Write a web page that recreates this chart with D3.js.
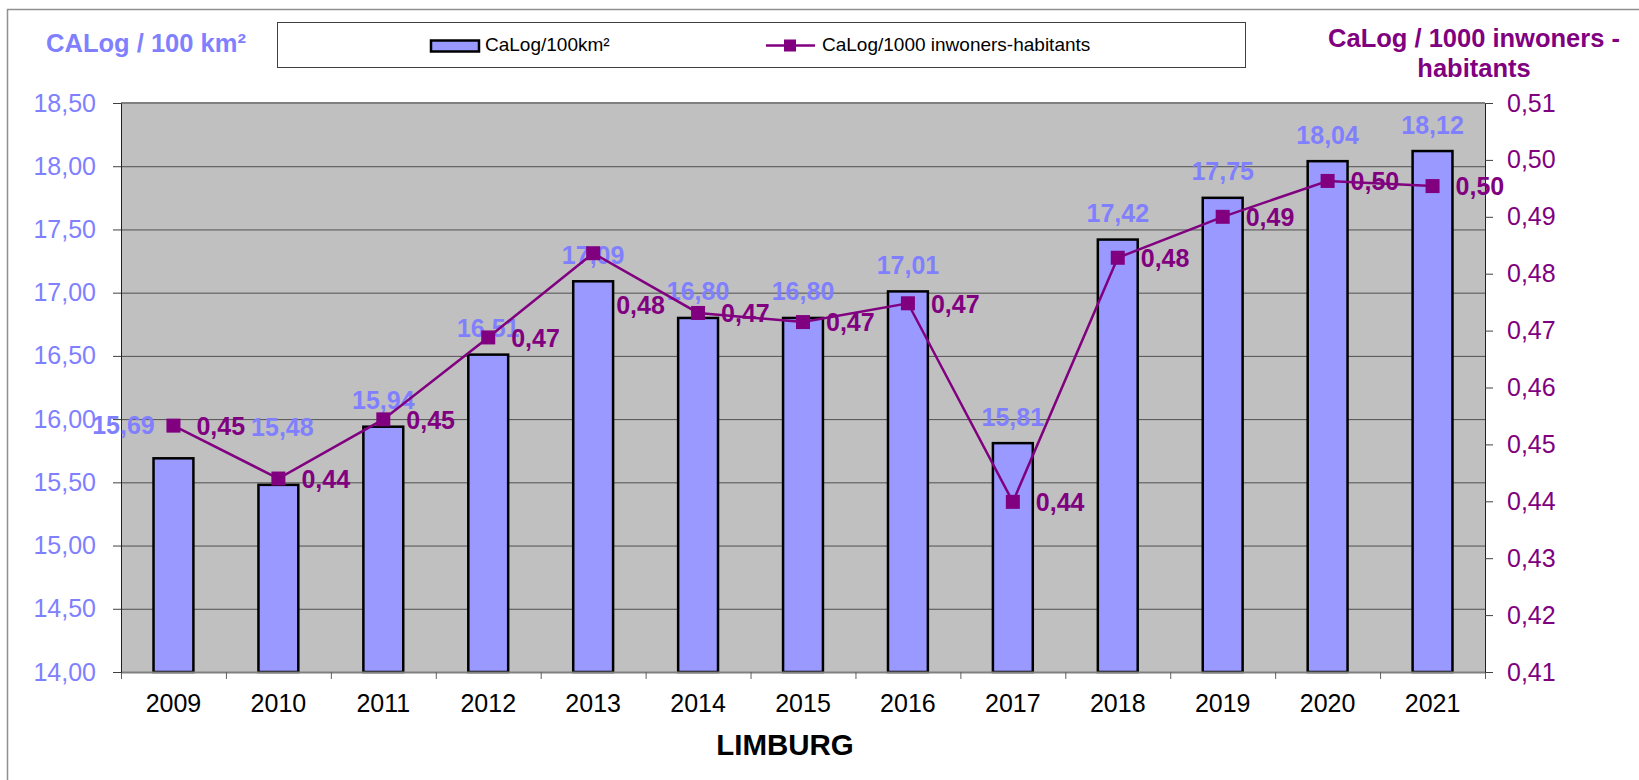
<!DOCTYPE html>
<html>
<head>
<meta charset="utf-8">
<script src="https://cdn.jsdelivr.net/npm/d3@7"></script>
<style>
  body { margin: 0; background: #fff; }
  svg { display: block; font-family: "Liberation Sans", Arial, sans-serif; }
</style>
</head>
<body>
<svg width="1639" height="780"></svg>
<script>
// data
var years = ["2009", "2010", "2011", "2012", "2013", "2014", "2015", "2016", "2017", "2018", "2019", "2020", "2021"];
var perArea = [15.69, 15.48, 15.94, 16.51, 17.09, 16.80, 16.80, 17.01, 15.81, 17.42, 17.75, 18.04, 18.12];
var perInhab = [0.4533, 0.4440, 0.4544, 0.4688, 0.4836, 0.4731, 0.4715, 0.4748, 0.4399, 0.4828, 0.4900, 0.4963, 0.4954];
var leftTicks = [14, 14.5, 15, 15.5, 16, 16.5, 17, 17.5, 18, 18.5];
var rightTicks = [0.41, 0.42, 0.43, 0.44, 0.45, 0.46, 0.47, 0.48, 0.49, 0.50, 0.51];

// labels that were dragged by hand in the original
var barLabelNudge = {"2009": [-50, -7], "2010": [4, -31]};
var lineLabelNudge = {"2013": [0, 51]};

var barColor = "#9999ff", labelBlue = "#8080ff", purple = "#800080";

var pLeft = 121, pRight = 1485, pTop = 103, pBottom = 672;

var loc = d3.formatLocale({decimal: ",", thousands: ".", grouping: [3], currency: ["", "€"]});
var f2 = loc.format(".2f");

var svg = d3.select("svg");

// outer frame
svg.append("rect")
    .attr("x", 7.5).attr("y", 9.5)
    .attr("width", 1660).attr("height", 800)
    .attr("fill", "none").attr("stroke", "#909090").attr("stroke-width", 1.5);

var x = d3.scaleBand()
    .domain(years)
    .range([pLeft, pRight])
    .paddingInner(0.62)
    .paddingOuter(0.31);

var xEdges = d3.scaleLinear().domain([0, years.length]).range([pLeft, pRight]);

var yL = d3.scaleLinear().domain([14, 18.5]).range([pBottom, pTop]);
var yR = d3.scaleLinear().domain([0.41, 0.51]).range([pBottom, pTop]);

// plot background
svg.append("rect")
    .attr("x", pLeft).attr("y", pTop)
    .attr("width", pRight - pLeft).attr("height", pBottom - pTop)
    .attr("fill", "#c0c0c0");

// gridlines
svg.append("g")
    .attr("transform", "translate(" + pLeft + ",0)")
    .call(d3.axisLeft(yL).tickValues(leftTicks.slice(1, -1)).tickSize(-(pRight - pLeft)).tickFormat(""))
    .call(function(g) {
        g.select(".domain").remove();
        g.selectAll("line").attr("stroke", "#505050").attr("stroke-width", 1);
    });

// plot border top
svg.append("line")
    .attr("x1", pLeft).attr("x2", pRight).attr("y1", pTop).attr("y2", pTop)
    .attr("stroke", "#808080").attr("stroke-width", 2);

// bars
svg.selectAll("rect.bar")
    .data(perArea)
    .enter().append("rect")
    .attr("class", "bar")
    .attr("x", function(d, i) { return x(years[i]); })
    .attr("y", function(d) { return yL(d); })
    .attr("width", x.bandwidth())
    .attr("height", function(d) { return pBottom - yL(d); })
    .attr("fill", barColor)
    .attr("stroke", "#000")
    .attr("stroke-width", 2.5);

// x axis
svg.append("g")
    .attr("transform", "translate(0," + pBottom + ")")
    .call(d3.axisBottom(xEdges).tickValues(d3.range(years.length + 1)).tickSize(7).tickSizeOuter(0).tickFormat(""))
    .call(function(g) {
        g.select(".domain").attr("stroke", "#808080").attr("stroke-width", 2);
        g.selectAll("line").attr("stroke", "#606060");
    });

svg.append("g")
    .attr("transform", "translate(0," + pBottom + ")")
    .call(d3.axisBottom(x).tickSize(0).tickPadding(22))
    .call(function(g) {
        g.select(".domain").remove();
        g.selectAll("text").attr("font-size", 25).attr("fill", "#000").attr("font-family", null);
    });

// left axis
svg.append("g")
    .attr("transform", "translate(" + pLeft + ",0)")
    .call(d3.axisLeft(yL).tickValues(leftTicks).tickSize(8).tickSizeOuter(0).tickPadding(17).tickFormat(f2))
    .call(function(g) {
        g.select(".domain").attr("stroke", "#202020");
        g.selectAll("line").attr("stroke", "#404040");
        g.selectAll("text").attr("font-size", 25).attr("fill", labelBlue).attr("font-family", null);
    });

// right axis
svg.append("g")
    .attr("transform", "translate(" + pRight + ",0)")
    .call(d3.axisRight(yR).tickValues(rightTicks).tickSize(8).tickSizeOuter(0).tickPadding(14).tickFormat(f2))
    .call(function(g) {
        g.select(".domain").attr("stroke", "#202020");
        g.selectAll("line").attr("stroke", "#404040");
        g.selectAll("text").attr("font-size", 25).attr("fill", purple).attr("font-family", null);
    });

// bar labels
svg.selectAll("text.barlab")
    .data(perArea)
    .enter().append("text")
    .attr("class", "barlab")
    .attr("x", function(d, i) {
        var n = barLabelNudge[years[i]];
        return x(years[i]) + x.bandwidth() / 2 + (n ? n[0] : 0);
    })
    .attr("y", function(d, i) {
        var n = barLabelNudge[years[i]];
        return yL(d) - 17.5 + (n ? n[1] : 0);
    })
    .attr("text-anchor", "middle")
    .attr("font-size", 25)
    .attr("font-weight", "bold")
    .attr("fill", labelBlue)
    .text(function(d) { return f2(d); });

// line + markers
var cx = function(d, i) { return x(years[i]) + x.bandwidth() / 2; };

svg.append("path")
    .datum(perInhab)
    .attr("fill", "none")
    .attr("stroke", purple)
    .attr("stroke-width", 2.5)
    .attr("d", d3.line().x(cx).y(function(d) { return yR(d); }));

svg.selectAll("rect.mark")
    .data(perInhab)
    .enter().append("rect")
    .attr("class", "mark")
    .attr("x", function(d, i) { return cx(d, i) - 7; })
    .attr("y", function(d) { return yR(d) - 7; })
    .attr("width", 14).attr("height", 14)
    .attr("fill", purple);

svg.selectAll("text.linelab")
    .data(perInhab)
    .enter().append("text")
    .attr("class", "linelab")
    .attr("x", function(d, i) {
        var n = lineLabelNudge[years[i]];
        return cx(d, i) + 23 + (n ? n[0] : 0);
    })
    .attr("y", function(d, i) {
        var n = lineLabelNudge[years[i]];
        return yR(d) + 9.3 + (n ? n[1] : 0);
    })
    .attr("font-size", 25)
    .attr("font-weight", "bold")
    .attr("fill", purple)
    .text(function(d) { return f2(d); });

// axis titles
svg.append("text")
    .attr("x", 146).attr("y", 52)
    .attr("text-anchor", "middle")
    .attr("font-size", 25.5).attr("font-weight", "bold")
    .attr("fill", labelBlue)
    .text("CALog / 100 km²");

var rt = svg.append("text")
    .attr("text-anchor", "middle")
    .attr("font-size", 25.5).attr("font-weight", "bold")
    .attr("fill", purple);
rt.append("tspan").attr("x", 1474).attr("y", 47).text("CaLog / 1000 inwoners -");
rt.append("tspan").attr("x", 1474).attr("y", 76.5).text("habitants");

svg.append("text")
    .attr("x", 785).attr("y", 755)
    .attr("text-anchor", "middle")
    .attr("font-size", 29.5).attr("font-weight", "bold")
    .attr("fill", "#000")
    .text("LIMBURG");

// legend
var lg = svg.append("g");
lg.append("rect")
    .attr("x", 277.5).attr("y", 22.5)
    .attr("width", 968).attr("height", 45)
    .attr("fill", "#fff").attr("stroke", "#404040").attr("stroke-width", 1);
lg.append("rect")
    .attr("x", 431).attr("y", 40.5)
    .attr("width", 48).attr("height", 11)
    .attr("fill", barColor).attr("stroke", "#000").attr("stroke-width", 2.5);
lg.append("text")
    .attr("x", 485).attr("y", 50.5)
    .attr("font-size", 19).attr("fill", "#000")
    .text("CaLog/100km²");
lg.append("line")
    .attr("x1", 766).attr("x2", 815).attr("y1", 45.5).attr("y2", 45.5)
    .attr("stroke", purple).attr("stroke-width", 2.5);
lg.append("rect")
    .attr("x", 784).attr("y", 39.5)
    .attr("width", 12).attr("height", 12)
    .attr("fill", purple);
lg.append("text")
    .attr("x", 822).attr("y", 50.5)
    .attr("font-size", 19).attr("fill", "#000")
    .text("CaLog/1000 inwoners-habitants");
</script>
</body>
</html>
